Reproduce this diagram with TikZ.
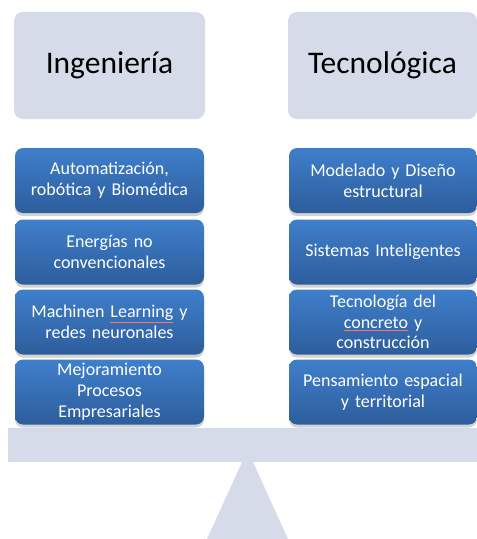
\documentclass[tikz,border=0pt]{standalone}
\usepackage{fontspec}
\setmainfont{Carlito}
\usetikzlibrary{shadows}
\definecolor{platillo}{HTML}{D5DBE9}
\definecolor{azulsup}{HTML}{3F7FCB}
\definecolor{azulinf}{HTML}{2D5D9C}
\newcommand\marcado[1]{{\color{red!55!white}\underline{\color{white}#1}}}
\tikzset{
  titulo/.style={fill=platillo, rounded corners=9pt, minimum width=191pt, minimum height=107pt,
    inner sep=0pt, font=\fontsize{31.5}{36}\selectfont},
  tema/.style={top color=azulsup, bottom color=azulinf, rounded corners=8pt, minimum width=189pt,
    minimum height=65pt, text width=186pt, align=center, inner sep=0pt, text=white,
    font=\fontsize{18}{20.8}\selectfont,
    drop shadow={shadow xshift=0pt, shadow yshift=-3pt, opacity=0.35}},
}

\begin{document}
\begin{tikzpicture}[x=1pt,y=-1pt]
    \useasboundingbox (0,0) rectangle (477,539);
    \fill[platillo] (247.5,450) -- (207,539) -- (288,539) -- cycle;
    \fill[platillo] (8,428) rectangle (477,462);
    \node[titulo] (ing) at (109.5,65.5) {Ingeniería};
    \node[titulo, minimum width=189pt] (tec) at (382.5,65.5) {Tecnológica};
    \node[tema] (ing1) at (109.5,180.5) {Automatización,\\robótica y Biomédica};
    \node[tema] (ing2) at (109.5,252) {Energías no\\convencionales};
    \node[tema] (ing3) at (109.5,322) {Machinen \marcado{Learning} y\\redes neuronales};
    \node[tema] (ing4) at (109.5,392) {Mejoramiento\\Procesos\\Empresariales};
    \node[tema, minimum width=188pt] (tec1) at (383,180.5) {Modelado y Diseño\\estructural};
    \node[tema, minimum width=188pt] (tec2) at (383,252) {Sistemas Inteligentes};
    \node[tema, minimum width=188pt] (tec3) at (383,322) {Tecnología del\\\marcado{concreto} y\\construcción};
    \node[tema, minimum width=188pt] (tec4) at (383,392) {Pensamiento espacial\\y territorial};
\end{tikzpicture}
\end{document}
